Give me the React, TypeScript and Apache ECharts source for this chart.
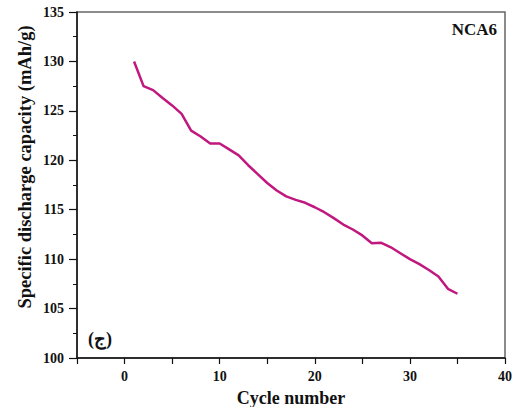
import React, { useEffect, useRef } from "react";
import * as echarts from "echarts";

// Cycle index and discharge capacity (mAh/g)
const cycles: number[] = Array.from({ length: 35 }, (_, i) => i + 1);
const capacity: number[] = [
  130.0, 127.5, 127.1, 126.3, 125.55, 124.7, 123.0, 122.4, 121.7, 121.7,
  121.1, 120.5, 119.5, 118.6, 117.7, 116.95, 116.35, 116.0, 115.7, 115.25,
  114.75, 114.15, 113.5, 113.0, 112.4, 111.6, 111.65, 111.2, 110.6, 110.0,
  109.5, 108.9, 108.25, 107.0, 106.5,
];
const sampleName = "NCA6";
const panelLabel = "(ج)";
const xTitle = "Cycle number";
const yTitle = "Specific discharge capacity (mAh/g)";

const FONT = "'Liberation Serif', 'Times New Roman', serif";

export default function App() {
  const ref = useRef<HTMLDivElement>(null);
  useEffect(() => {
    if (!ref.current) return;
    document.body.style.margin = "0";
    const chart = echarts.init(ref.current, null, { renderer: "svg" });
    chart.setOption({
      animation: false,
      backgroundColor: "#ffffff",
      grid: {
        left: 77,
        right: 11,
        top: 12,
        bottom: 49,
        outerBoundsMode: "none",
        containLabel: false,
        show: true,
        borderColor: "#666666",
        borderWidth: 1.5,
        backgroundColor: "transparent",
      },
      xAxis: {
        type: "value",
        min: -5,
        max: 40,
        interval: 5,
        name: xTitle,
        nameLocation: "middle",
        nameGap: 31,
        nameTextStyle: { fontFamily: FONT, fontWeight: "bold", fontSize: 18, color: "#111" },
        axisLine: { show: true, onZero: false, lineStyle: { color: "#111", width: 1.5 } },
        axisTick: { show: true, inside: false, length: 6, lineStyle: { color: "#111", width: 1.2 } },
        axisLabel: {
          fontFamily: FONT,
          fontWeight: "bold",
          fontSize: 14,
          color: "#111",
          margin: 11,
          formatter: (v: number) => (v % 10 === 0 ? String(v) : ""),
        },
        splitLine: { show: false },
      },
      yAxis: {
        type: "value",
        min: 100,
        max: 135,
        interval: 5,
        axisLine: { show: true, onZero: false, lineStyle: { color: "#111", width: 1.5 } },
        axisTick: { show: true, inside: false, length: 8, lineStyle: { color: "#111", width: 1.2 } },
        minorTick: { show: true, splitNumber: 2, length: 4, lineStyle: { color: "#111", width: 1 } },
        axisLabel: {
          fontFamily: FONT,
          fontWeight: "bold",
          fontSize: 14,
          color: "#111",
          margin: 13,
        },
        splitLine: { show: false },
      },
      series: [
        {
          type: "line",
          data: cycles.map((c, i) => [c, capacity[i]]),
          showSymbol: false,
          lineStyle: { color: "#C0187E", width: 2.5 },
          itemStyle: { color: "#C0187E" },
        },
      ],
      graphic: [
        {
          type: "text",
          x: 25,
          y: 167,
          rotation: Math.PI / 2,
          style: {
            text: yTitle,
            font: `bold 18.5px ${FONT}`,
            fill: "#111",
            textAlign: "center",
            textVerticalAlign: "middle",
          },
        },
        {
          type: "text",
          right: 19,
          top: 21,
          style: {
            text: sampleName,
            font: `bold 17px ${FONT}`,
            fill: "#111",
          },
        },
        {
          type: "text",
          left: 88,
          top: 330,
          style: {
            text: panelLabel,
            font: `bold 18px ${FONT}`,
            fill: "#111",
          },
        },
      ],
    });
    return () => chart.dispose();
  }, []);
  return <div ref={ref} style={{ width: 516, height: 407 }} />;
}
